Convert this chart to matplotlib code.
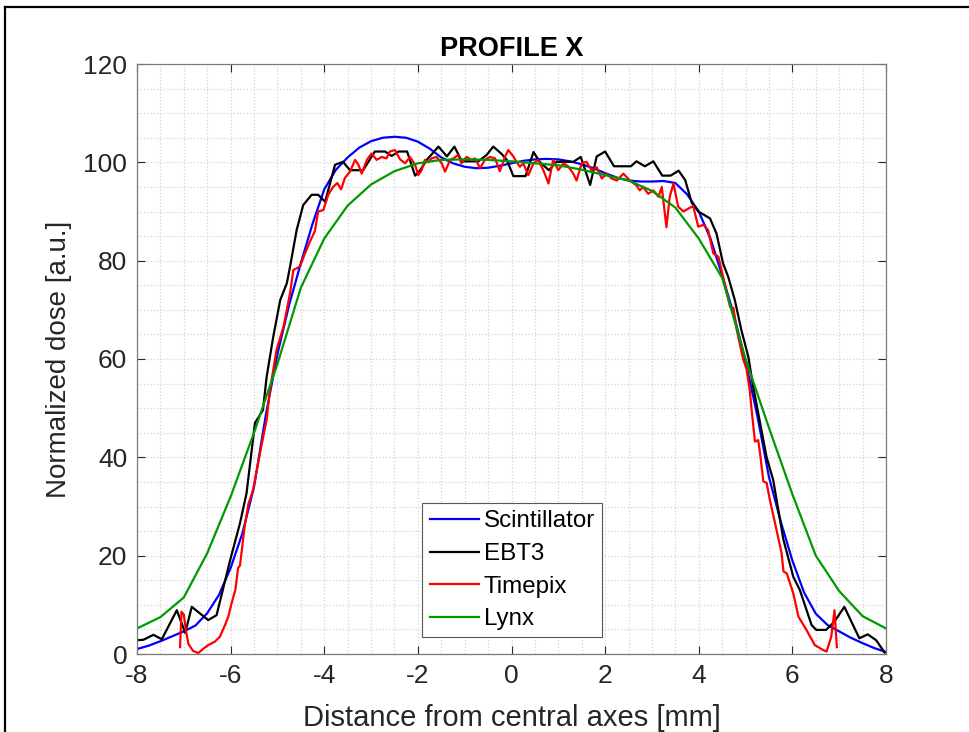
import matplotlib
matplotlib.use("Agg")
import matplotlib.pyplot as plt
from matplotlib.lines import Line2D
from matplotlib.ticker import MultipleLocator

plt.rcParams['font.family'] = ['Liberation Sans', 'DejaVu Sans']
plt.rcParams['axes.unicode_minus'] = False

# ---------------- data ----------------
scint_x = [-8.0, -7.75, -7.5, -7.25, -7.0, -6.75, -6.5, -6.25, -6.0, -5.75, -5.5, -5.25,
           -5.0, -4.75, -4.5, -4.25, -4.0, -3.75, -3.5, -3.25, -3.0, -2.75, -2.5, -2.25,
           -2.0, -1.75, -1.5, -1.25, -1.0, -0.75, -0.5, -0.25, 0.0, 0.25, 0.5, 0.75,
           1.0, 1.25, 1.5, 1.75, 2.0, 2.25, 2.5, 2.75, 3.0, 3.25, 3.5, 3.75,
           4.0, 4.25, 4.5, 4.75, 5.0, 5.25, 5.5, 5.75, 6.0, 6.25, 6.5, 6.75,
           7.0, 7.25, 7.5, 7.75, 8.0]
scint_y = [1.0, 1.7, 2.6, 3.6, 4.6, 5.8, 8.3, 12.0, 17.5, 24.5, 34.0, 48.5,
           61.0, 71.0, 79.5, 87.5, 94.5, 98.5, 101.0, 103.0, 104.3, 105.0, 105.2, 105.0,
           104.2, 102.8, 101.0, 99.8, 99.1, 98.8, 98.9, 99.3, 99.8, 100.3, 100.6, 100.7,
           100.6, 100.2, 99.6, 98.8, 97.8, 96.9, 96.3, 96.1, 96.1, 96.2, 95.8, 93.5,
           90.0, 84.5, 77.0, 69.0, 59.5, 48.5, 36.0, 27.0, 19.0, 12.5, 8.2, 5.9,
           4.6, 3.3, 2.2, 1.2, 0.4]

ebt3_x = [-8.0, -7.86, -7.65, -7.47, -7.15, -6.97, -6.83, -6.48, -6.30, -6.01, -5.80, -5.66,
          -5.48, -5.31, -5.23, -5.09, -4.94, -4.80, -4.73, -4.59, -4.45, -4.27, -4.13, -3.98,
          -3.77, -3.60, -3.45, -3.17, -2.92, -2.70, -2.56, -2.41, -2.23, -2.06, -1.95, -1.81,
          -1.56, -1.38, -1.22, -1.06, -0.71, -0.53, -0.39, -0.21, -0.10, 0.04, 0.30, 0.47,
          0.61, 0.80, 0.96, 1.32, 1.48, 1.68, 1.82, 2.00, 2.19, 2.55, 2.67, 2.85,
          3.03, 3.22, 3.40, 3.57, 3.71, 3.85, 3.99, 4.24, 4.38, 4.52, 4.63, 4.77,
          4.91, 5.06, 5.16, 5.30, 5.45, 5.59, 5.81, 6.02, 6.16, 6.41, 6.51, 6.72,
          6.90, 7.11, 7.43, 7.61, 7.79, 7.97]
ebt3_y = [2.8, 2.9, 3.9, 3.0, 8.9, 4.3, 9.6, 6.9, 7.9, 19.1, 26.6, 32.7,
          47.0, 49.6, 56.4, 64.5, 72.0, 75.4, 78.8, 86.2, 91.3, 93.4, 93.4, 92.0,
          99.5, 100.1, 98.4, 98.4, 102.2, 102.2, 101.3, 102.2, 102.2, 97.3, 98.4, 100.5,
          103.2, 101.2, 103.2, 100.2, 100.2, 101.5, 103.2, 101.7, 100.5, 97.2, 97.2, 102.1,
          100.0, 98.4, 100.1, 100.1, 101.1, 95.4, 101.2, 102.2, 99.2, 99.2, 100.2, 99.2,
          100.2, 97.3, 97.3, 98.3, 96.4, 91.8, 90.0, 88.6, 85.5, 79.4, 76.7, 72.0,
          65.9, 60.4, 54.5, 47.5, 40.0, 35.4, 23.2, 15.7, 13.0, 5.9, 4.9, 4.9,
          6.6, 9.6, 3.2, 4.0, 2.8, 0.3]

timepix_x = [-7.08, -7.05, -7.00, -6.95, -6.90, -6.80, -6.69, -6.58, -6.48, -6.34, -6.23, -6.12,
             -6.05, -5.98, -5.90, -5.84, -5.80, -5.70, -5.62, -5.52, -5.37, -5.23, -5.16, -5.02,
             -4.87, -4.73, -4.66, -4.52, -4.41, -4.30, -4.20, -4.13, -4.02, -3.91, -3.81, -3.72,
             -3.64, -3.56, -3.45, -3.34, -3.27, -3.20, -3.09, -2.99, -2.88, -2.77, -2.67, -2.60,
             -2.49, -2.38, -2.27, -2.17, -2.06, -1.99, -1.92, -1.85, -1.78, -1.71, -1.60, -1.49,
             -1.42, -1.31, -1.24, -1.14, -1.07, -0.96, -0.85, -0.78, -0.67, -0.57, -0.46, -0.35,
             -0.25, -0.14, -0.07, 0.04, 0.11, 0.18, 0.25, 0.36, 0.47, 0.57, 0.68, 0.79,
             0.89, 1.00, 1.11, 1.21, 1.32, 1.39, 1.50, 1.60, 1.71, 1.82, 1.93, 2.03,
             2.14, 2.25, 2.39, 2.53, 2.67, 2.74, 2.81, 2.92, 3.03, 3.14, 3.21, 3.31,
             3.38, 3.46, 3.56, 3.67, 3.78, 3.88, 3.99, 4.10, 4.20, 4.31, 4.42, 4.52,
             4.67, 4.74, 4.81, 4.95, 5.02, 5.09, 5.13, 5.20, 5.27, 5.31, 5.38, 5.45,
             5.52, 5.63, 5.77, 5.81, 5.88, 6.02, 6.13, 6.30, 6.48, 6.66, 6.73, 6.83,
             6.90, 6.95]
timepix_y = [1.4, 8.6, 8.0, 4.5, 2.0, 0.6, 0.2, 1.1, 1.8, 2.5, 3.5, 5.9,
             7.6, 10.3, 13.0, 17.5, 18.0, 26.0, 30.5, 33.4, 41.0, 47.7, 53.7, 61.8,
             66.6, 73.4, 78.1, 78.8, 81.5, 84.0, 86.0, 90.0, 90.3, 93.5, 95.0, 95.8,
             94.5, 96.8, 98.1, 100.5, 99.5, 97.7, 100.5, 101.8, 100.5, 101.1, 100.8, 102.2,
             102.5, 100.6, 99.8, 101.1, 99.5, 97.4, 98.4, 100.5, 100.0, 100.8, 101.1, 99.8,
             98.1, 100.5, 100.8, 101.5, 99.8, 101.1, 100.5, 100.8, 98.8, 100.5, 101.1, 100.8,
             98.2, 101.1, 102.5, 101.2, 100.0, 99.1, 99.8, 97.4, 99.8, 100.5, 98.4, 95.7,
             100.5, 98.4, 99.8, 99.2, 97.7, 96.3, 99.8, 100.1, 98.4, 99.0, 96.7, 97.7,
             96.7, 96.3, 97.7, 96.3, 95.3, 94.3, 95.0, 93.6, 94.3, 93.0, 95.0, 86.8,
             93.0, 95.7, 91.0, 90.0, 90.6, 91.1, 86.9, 87.3, 86.2, 81.5, 80.8, 76.7,
             70.6, 70.4, 66.0, 59.9, 58.0, 53.7, 49.6, 43.2, 43.5, 40.8, 35.1, 34.8,
             31.3, 26.6, 20.5, 16.8, 16.4, 12.3, 7.6, 4.9, 1.8, 0.8, 0.5, 3.5,
             8.9, 1.4]

lynx_x = [-8.0, -7.5, -7.0, -6.5, -6.0, -5.5, -5.0, -4.5, -4.0, -3.5, -3.0, -2.5,
          -2.0, -1.5, -1.0, -0.5, 0.0, 0.5, 1.0, 1.5, 2.0, 2.5, 3.0, 3.5,
          4.0, 4.5, 5.0, 5.5, 6.0, 6.5, 7.0, 7.5, 8.0]
lynx_y = [5.2, 7.5, 11.5, 20.5, 32.0, 45.0, 59.0, 74.5, 84.5, 91.2, 95.5, 98.2,
          99.8, 100.5, 100.6, 100.5, 100.2, 99.8, 99.4, 98.5, 97.4, 96.3, 94.2, 90.8,
          84.5, 76.5, 60.0, 46.0, 32.5, 20.0, 12.8, 7.7, 5.2]

labels = ['Scintillator', 'EBT3', 'Timepix', 'Lynx']
colors = ['#0000ff', '#000000', '#ff0000', '#009900']

# ---------------- plot ----------------
fig = plt.figure(figsize=(9.69, 7.32), dpi=100)
ax = fig.add_axes([137 / 969, 1 - 654 / 732, (886 - 137) / 969, (654 - 64) / 732])

series = [(scint_x, scint_y), (ebt3_x, ebt3_y), (timepix_x, timepix_y), (lynx_x, lynx_y)]
for (xs, ys), lab, c in zip(series, labels, colors):
    ax.plot(xs, ys, color=c, lw=1.6, label=lab)

ax.set_xlim(-8, 8)
ax.set_ylim(0, 120)
ax.xaxis.set_major_locator(MultipleLocator(2))
ax.xaxis.set_minor_locator(MultipleLocator(0.5))
ax.yaxis.set_major_locator(MultipleLocator(20))
ax.yaxis.set_minor_locator(MultipleLocator(5))
ax.set_axisbelow(True)
ax.grid(which='both', color='#d4d4d4', linestyle=':', linewidth=0.9)
ax.tick_params(which='major', direction='in', length=6, width=0.8, top=True, right=True,
               labelsize=19, colors='#262626', pad=7)
ax.tick_params(which='minor', length=0, top=True, right=True)
for sp in ax.spines.values():
    sp.set_color('#7a7a7a')
    sp.set_linewidth(0.9)

ax.set_title('PROFILE X', fontsize=19.5, fontweight='bold', color='black', pad=6)
ax.set_xlabel('Distance from central axes [mm]', fontsize=21, color='#262626', labelpad=12)
ax.set_ylabel('Normalized dose [a.u.]', fontsize=20, color='#262626', labelpad=8)

leg = ax.legend(loc='lower left', bbox_to_anchor=(0.381, 0.028), fontsize=17.4,
                fancybox=False, framealpha=1, edgecolor='#555555', handlelength=2.05,
                handletextpad=0.2, borderpad=0.3, labelspacing=0.44, borderaxespad=0)
leg.get_frame().set_linewidth(0.8)

# figure border lines (top and left)
fig.add_artist(Line2D([5 / 969, 1.0], [1 - 7 / 732, 1 - 7 / 732], color='black', lw=1.6,
                      transform=fig.transFigure))
fig.add_artist(Line2D([5 / 969, 5 / 969], [0, 1 - 7 / 732], color='black', lw=1.6,
                      transform=fig.transFigure))

fig.savefig('out.png', dpi=100)
